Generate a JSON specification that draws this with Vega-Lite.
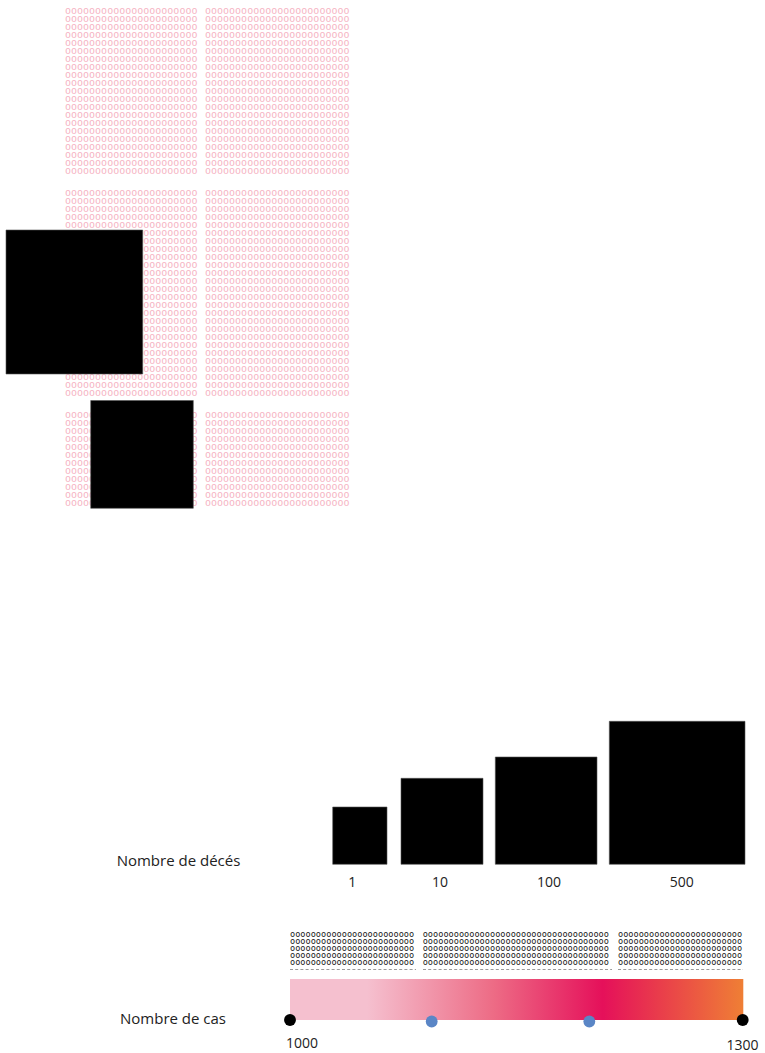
{
  "$schema": "https://vega.github.io/schema/vega-lite/v6.json",
  "width": 765,
  "height": 1053,
  "padding": 0,
  "autosize": {"type": "none"},
  "config": {"view": {"stroke": null}},
  "datasets": {
    "blocs": [
      {"bloc": "g", "x": 65, "t": "oooooooooooooooooooooo"},
      {"bloc": "d", "x": 205, "t": "oooooooooooooooooooooooo"},
      {"bloc": "l1", "x": 290, "t": "oooooooooooooooooooooooo"},
      {"bloc": "l2", "x": 422.7, "t": "oooooooooooooooooooooooooooooooooooo"},
      {"bloc": "l3", "x": 618, "t": "oooooooooooooooooooooooo"}
    ]
  },
  "encoding": {
    "x": {"field": "x", "type": "quantitative", "scale": {"domain": [0, 765], "nice": false, "zero": false}, "axis": null},
    "y": {"field": "y", "type": "quantitative", "scale": {"domain": [0, 1053], "nice": false, "zero": false, "reverse": true}, "axis": null}
  },
  "layer": [
    {
      "data": {"values": [
        {"y": 10.7, "bloc": ["g", "d"]}, {"y": 18.7, "bloc": ["g", "d"]}, {"y": 26.7, "bloc": ["g", "d"]}, {"y": 34.7, "bloc": ["g", "d"]},
        {"y": 42.7, "bloc": ["g", "d"]}, {"y": 50.7, "bloc": ["g", "d"]}, {"y": 58.7, "bloc": ["g", "d"]}, {"y": 66.7, "bloc": ["g", "d"]},
        {"y": 74.7, "bloc": ["g", "d"]}, {"y": 82.7, "bloc": ["g", "d"]}, {"y": 90.7, "bloc": ["g", "d"]}, {"y": 98.7, "bloc": ["g", "d"]},
        {"y": 106.7, "bloc": ["g", "d"]}, {"y": 114.7, "bloc": ["g", "d"]}, {"y": 122.7, "bloc": ["g", "d"]}, {"y": 130.7, "bloc": ["g", "d"]},
        {"y": 138.7, "bloc": ["g", "d"]}, {"y": 146.7, "bloc": ["g", "d"]}, {"y": 154.7, "bloc": ["g", "d"]}, {"y": 162.7, "bloc": ["g", "d"]},
        {"y": 170.7, "bloc": ["g", "d"]},
        {"y": 193.3, "bloc": ["g", "d"]}, {"y": 201.3, "bloc": ["g", "d"]}, {"y": 209.3, "bloc": ["g", "d"]}, {"y": 217.3, "bloc": ["g", "d"]},
        {"y": 225.3, "bloc": ["g", "d"]}, {"y": 233.3, "bloc": ["g", "d"]}, {"y": 241.3, "bloc": ["g", "d"]}, {"y": 249.3, "bloc": ["g", "d"]},
        {"y": 257.3, "bloc": ["g", "d"]}, {"y": 265.3, "bloc": ["g", "d"]}, {"y": 273.3, "bloc": ["g", "d"]}, {"y": 281.3, "bloc": ["g", "d"]},
        {"y": 289.3, "bloc": ["g", "d"]}, {"y": 297.3, "bloc": ["g", "d"]}, {"y": 305.3, "bloc": ["g", "d"]}, {"y": 313.3, "bloc": ["g", "d"]},
        {"y": 321.3, "bloc": ["g", "d"]}, {"y": 329.3, "bloc": ["g", "d"]}, {"y": 337.3, "bloc": ["g", "d"]}, {"y": 345.3, "bloc": ["g", "d"]},
        {"y": 353.3, "bloc": ["g", "d"]}, {"y": 361.3, "bloc": ["g", "d"]}, {"y": 369.3, "bloc": ["g", "d"]}, {"y": 377.3, "bloc": ["g", "d"]},
        {"y": 385.3, "bloc": ["g", "d"]}, {"y": 393.3, "bloc": ["g", "d"]},
        {"y": 415.3, "bloc": ["g", "d"]}, {"y": 423.3, "bloc": ["g", "d"]}, {"y": 431.3, "bloc": ["g", "d"]}, {"y": 439.3, "bloc": ["g", "d"]},
        {"y": 447.3, "bloc": ["g", "d"]}, {"y": 455.3, "bloc": ["g", "d"]}, {"y": 463.3, "bloc": ["g", "d"]}, {"y": 471.3, "bloc": ["g", "d"]},
        {"y": 479.3, "bloc": ["g", "d"]}, {"y": 487.3, "bloc": ["g", "d"]}, {"y": 495.3, "bloc": ["g", "d"]}, {"y": 503.3, "bloc": ["g", "d"]}
      ]},
      "transform": [
        {"flatten": ["bloc"]},
        {"lookup": "bloc", "from": {"data": {"name": "blocs"}, "key": "bloc", "fields": ["x", "t"]}}
      ],
      "mark": {"type": "text", "align": "left", "baseline": "middle", "font": "DejaVu Sans Mono", "fontSize": 10, "color": "#f6b3c3"},
      "encoding": {"text": {"field": "t"}}
    },
    {
      "data": {"values": [
        {"y": 934, "bloc": "l1"}, {"y": 941, "bloc": "l1"}, {"y": 948, "bloc": "l1"}, {"y": 955, "bloc": "l1"}, {"y": 962, "bloc": "l1"},
        {"y": 934, "bloc": "l2"}, {"y": 941, "bloc": "l2"}, {"y": 948, "bloc": "l2"}, {"y": 955, "bloc": "l2"}, {"y": 962, "bloc": "l2"},
        {"y": 934, "bloc": "l3"}, {"y": 941, "bloc": "l3"}, {"y": 948, "bloc": "l3"}, {"y": 955, "bloc": "l3"}, {"y": 962, "bloc": "l3"}
      ]},
      "transform": [
        {"lookup": "bloc", "from": {"data": {"name": "blocs"}, "key": "bloc", "fields": ["x", "t"]}}
      ],
      "mark": {"type": "text", "align": "left", "baseline": "middle", "font": "DejaVu Sans Mono", "fontSize": 8.6, "color": "#222222"},
      "encoding": {"text": {"field": "t"}}
    },
    {
      "data": {"values": [
        {"x": 290, "x2": 416, "y": 969.5},
        {"x": 423, "x2": 612, "y": 969.5},
        {"x": 618, "x2": 743, "y": 969.5}
      ]},
      "mark": {"type": "rule", "color": "#9a9a9a", "strokeWidth": 1, "strokeDash": [3, 2.2]},
      "encoding": {"x2": {"field": "x2"}}
    },
    {
      "data": {"values": [
        {"deces": 500, "x": 6, "x2": 142.7, "y": 230, "y2": 374},
        {"deces": 100, "x": 90.7, "x2": 193.3, "y": 400.5, "y2": 508.3},
        {"deces": 1, "x": 332.7, "x2": 387, "y": 807, "y2": 864.3},
        {"deces": 10, "x": 401, "x2": 483, "y": 778.3, "y2": 864.3},
        {"deces": 100, "x": 495.3, "x2": 597, "y": 757, "y2": 864.3},
        {"deces": 500, "x": 609.3, "x2": 745, "y": 721.3, "y2": 864.3}
      ]},
      "mark": {"type": "rect", "color": "#000000", "stroke": "#555555", "strokeWidth": 0.6},
      "encoding": {"x2": {"field": "x2"}, "y2": {"field": "y2"}}
    },
    {
      "data": {"values": [
        {"x": 290, "x2": 743.3, "y": 979, "y2": 1020}
      ]},
      "mark": {
        "type": "rect",
        "color": {
          "gradient": "linear", "x1": 0, "x2": 1, "y1": 0, "y2": 0,
          "stops": [
            {"offset": 0, "color": "#f5c0cf"},
            {"offset": 0.17, "color": "#f5c0cf"},
            {"offset": 0.45, "color": "#ed6b85"},
            {"offset": 0.69, "color": "#e5105a"},
            {"offset": 1, "color": "#ef7f35"}
          ]
        }
      },
      "encoding": {"x2": {"field": "x2"}, "y2": {"field": "y2"}}
    },
    {
      "data": {"values": [
        {"x": 290, "y": 1020, "role": "borne"},
        {"x": 431.7, "y": 1021.5, "role": "curseur"},
        {"x": 589.3, "y": 1021.5, "role": "curseur"},
        {"x": 742.7, "y": 1020, "role": "borne"}
      ]},
      "mark": {"type": "circle", "size": 140, "opacity": 1},
      "encoding": {
        "color": {"field": "role", "type": "nominal", "scale": {"domain": ["borne", "curseur"], "range": ["#000000", "#5a86c6"]}, "legend": null}
      }
    },
    {
      "data": {"values": [
        {"x": 352.3, "y": 883, "label": "1"},
        {"x": 440, "y": 883, "label": "10"},
        {"x": 549, "y": 883, "label": "100"},
        {"x": 681.7, "y": 883, "label": "500"},
        {"x": 302, "y": 1044, "label": "1000"},
        {"x": 742.6, "y": 1046, "label": "1300"}
      ]},
      "mark": {"type": "text", "align": "center", "baseline": "middle", "font": "Open Sans", "fontSize": 14, "color": "#222222"},
      "encoding": {"text": {"field": "label"}}
    },
    {
      "data": {"values": [
        {"x": 178.5, "y": 861, "label": "Nombre de décés"},
        {"x": 173, "y": 1019, "label": "Nombre de cas"}
      ]},
      "mark": {"type": "text", "align": "center", "baseline": "middle", "font": "Open Sans", "fontSize": 15, "color": "#222222"},
      "encoding": {"text": {"field": "label"}}
    }
  ]
}
